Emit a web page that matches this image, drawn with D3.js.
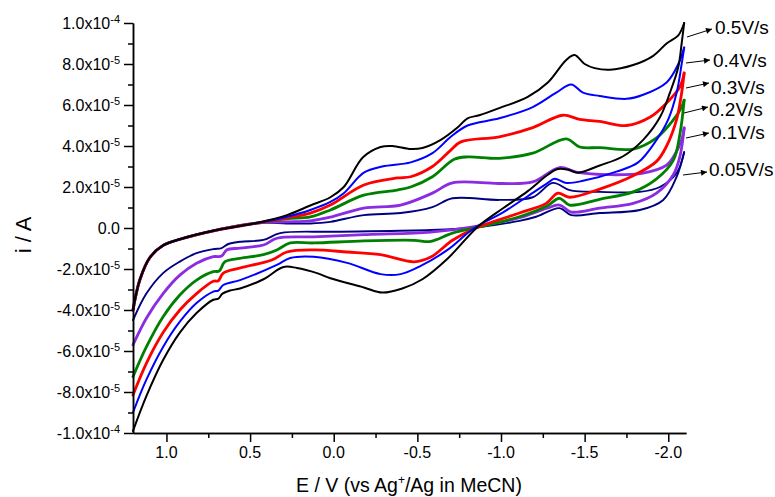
<!DOCTYPE html>
<html>
<head>
<meta charset="utf-8">
<script src="https://cdn.jsdelivr.net/npm/d3@7"></script>
<style>
  html, body { margin: 0; padding: 0; background: #fff; }
  svg { display: block; font-family: "Liberation Sans", Arial, sans-serif; }
</style>
</head>
<body>
<svg id="chart" width="775" height="497"></svg>
<script>
// Scan rates of the six voltammograms, slowest first
const scanRates = ["0.05V/s", "0.1V/s", "0.2V/s", "0.3V/s", "0.4V/s", "0.5V/s"];

// Each voltammogram has two branches of [E (V vs Ag+/Ag), i (x10^-5 A)],
// both running from +1.2 V out to the switching potential near -2.1 V.
const cv005Lower = [[1.2,-4.5],[1.12,-3.2],[1.02,-2.2],[0.92,-1.64],[0.82,-1.23],[0.72,-1.03],[0.67,-0.98],[0.63,-0.78],[0.56,-0.67],[0.42,-0.58],[0.32,-0.25],[0.0,-0.18],[-0.58,-0.1],[-0.87,0.05],[-1.11,0.35],[-1.21,0.55],[-1.35,0.97],[-1.42,0.63],[-1.59,0.73],[-1.83,0.88],[-1.97,1.37],[-2.05,2.5],[-2.095,3.7]];
const cv005Upper = [[1.2,-4.0],[1.16,-2.55],[1.10,-1.45],[1.02,-0.85],[0.92,-0.55],[0.70,-0.1],[0.45,0.25],[0.28,0.22],[0.14,0.22],[0.02,0.3],[-0.18,0.63],[-0.40,0.73],[-0.59,1.02],[-0.71,1.45],[-0.99,1.37],[-1.19,1.5],[-1.31,2.2],[-1.41,1.85],[-1.59,1.76],[-1.83,1.76],[-1.95,2.0],[-2.05,2.68],[-2.095,3.7]];

const cv01Lower = [[1.2,-5.7],[1.12,-4.4],[1.02,-3.2],[0.92,-2.3],[0.82,-1.72],[0.72,-1.4],[0.67,-1.37],[0.64,-1.07],[0.56,-0.98],[0.42,-0.83],[0.34,-0.5],[0.12,-0.43],[-0.2,-0.32],[-0.58,-0.2],[-0.87,0.1],[-1.11,0.5],[-1.27,0.95],[-1.35,1.12],[-1.42,0.78],[-1.59,0.97],[-1.79,1.2],[-1.93,1.7],[-2.03,2.6],[-2.07,3.5],[-2.095,4.88]];
const cv01Upper = [[1.2,-4.0],[1.16,-2.55],[1.10,-1.45],[1.02,-0.85],[0.92,-0.55],[0.70,-0.1],[0.45,0.25],[0.28,0.3],[0.14,0.35],[0.02,0.53],[-0.18,0.97],[-0.40,1.12],[-0.59,1.7],[-0.71,2.2],[-0.99,2.17],[-1.19,2.25],[-1.35,2.95],[-1.45,2.73],[-1.65,2.6],[-1.85,2.68],[-1.99,3.07],[-2.04,3.6],[-2.08,4.3],[-2.095,4.88]];

const cv02Lower = [[1.2,-7.25],[1.12,-5.8],[1.02,-4.33],[0.92,-3.27],[0.82,-2.54],[0.72,-2.13],[0.685,-2.1],[0.65,-1.64],[0.56,-1.48],[0.42,-1.3],[0.34,-1.07],[0.26,-0.73],[0.12,-0.73],[-0.18,-0.63],[-0.48,-0.6],[-0.58,-0.65],[-0.71,-0.25],[-0.87,0.05],[-1.11,0.55],[-1.28,1.1],[-1.35,1.45],[-1.41,1.12],[-1.59,1.4],[-1.79,1.76],[-1.93,2.4],[-2.03,3.3],[-2.07,4.6],[-2.095,6.24]];
const cv02Upper = [[1.2,-4.0],[1.16,-2.55],[1.10,-1.45],[1.02,-0.85],[0.92,-0.55],[0.70,-0.1],[0.45,0.25],[0.28,0.45],[0.14,0.54],[0.02,0.88],[-0.18,1.6],[-0.38,1.85],[-0.46,2.0],[-0.59,2.5],[-0.72,3.35],[-0.80,3.47],[-0.99,3.4],[-1.19,3.65],[-1.39,4.35],[-1.47,3.95],[-1.59,3.92],[-1.79,3.85],[-1.93,4.4],[-2.03,5.27],[-2.08,5.9],[-2.095,6.24]];

const cv03Lower = [[1.2,-8.15],[1.12,-6.6],[1.02,-5.1],[0.92,-4.0],[0.82,-3.2],[0.72,-2.6],[0.69,-2.57],[0.66,-2.2],[0.56,-1.95],[0.37,-1.56],[0.28,-1.17],[0.12,-1.07],[-0.08,-1.17],[-0.28,-1.3],[-0.48,-1.65],[-0.58,-1.42],[-0.71,-0.6],[-0.85,0],[-1.11,0.73],[-1.27,1.2],[-1.34,1.7],[-1.41,1.5],[-1.59,1.9],[-1.79,2.55],[-1.93,3.25],[-1.99,4.0],[-2.05,5.3],[-2.08,6.6],[-2.095,7.56]];
const cv03Upper = [[1.2,-4.0],[1.16,-2.55],[1.10,-1.45],[1.02,-0.85],[0.92,-0.55],[0.70,-0.1],[0.45,0.25],[0.28,0.5],[0.14,0.73],[0.02,1.12],[-0.18,2.1],[-0.38,2.44],[-0.46,2.5],[-0.59,3.0],[-0.70,3.8],[-0.76,4.2],[-0.99,4.45],[-1.19,4.9],[-1.37,5.5],[-1.47,5.3],[-1.59,5.2],[-1.75,5.0],[-1.89,5.4],[-1.99,6.1],[-2.07,6.9],[-2.095,7.56]];

const cv04Lower = [[1.2,-9.0],[1.12,-7.4],[1.02,-5.8],[0.92,-4.57],[0.82,-3.66],[0.72,-3.1],[0.69,-3.05],[0.66,-2.78],[0.56,-2.54],[0.34,-1.8],[0.26,-1.46],[0.12,-1.4],[-0.08,-1.7],[-0.28,-2.25],[-0.40,-2.25],[-0.52,-1.85],[-0.68,-1.07],[-0.84,0],[-1.01,0.75],[-1.16,1.55],[-1.28,2.2],[-1.32,2.4],[-1.39,2.2],[-1.49,2.3],[-1.69,2.75],[-1.82,3.2],[-1.93,4.3],[-2.0,5.3],[-2.05,6.6],[-2.08,8.0],[-2.095,8.8]];
const cv04Upper = [[1.2,-4.0],[1.16,-2.55],[1.10,-1.45],[1.02,-0.85],[0.92,-0.55],[0.70,-0.1],[0.45,0.25],[0.28,0.55],[0.14,0.88],[0.02,1.27],[-0.06,1.7],[-0.18,2.7],[-0.29,3.0],[-0.46,3.2],[-0.59,3.65],[-0.70,4.45],[-0.80,5.0],[-0.99,5.35],[-1.19,5.9],[-1.33,6.6],[-1.42,7.0],[-1.49,6.6],[-1.59,6.44],[-1.75,6.3],[-1.85,6.5],[-1.99,7.1],[-2.06,8.0],[-2.095,8.8]];

const cv05Lower = [[1.2,-9.9],[1.12,-8.2],[1.02,-6.44],[0.92,-5.1],[0.82,-4.15],[0.72,-3.5],[0.69,-3.45],[0.665,-3.2],[0.62,-3.05],[0.56,-2.95],[0.42,-2.5],[0.30,-1.9],[0.22,-1.95],[0.10,-2.2],[0.02,-2.45],[-0.18,-2.9],[-0.29,-3.15],[-0.41,-2.95],[-0.53,-2.5],[-0.68,-1.5],[-0.86,0.05],[-1.01,0.95],[-1.16,1.8],[-1.28,2.6],[-1.34,2.88],[-1.40,2.85],[-1.46,2.7],[-1.59,3.05],[-1.73,3.5],[-1.85,4.3],[-1.95,5.4],[-2.01,6.6],[-2.06,7.85],[-2.08,9.0],[-2.095,10]];
const cv05Upper = [[1.2,-4.0],[1.16,-2.55],[1.10,-1.45],[1.02,-0.85],[0.92,-0.55],[0.70,-0.1],[0.45,0.27],[0.28,0.63],[0.14,1.1],[0.02,1.5],[-0.06,2.0],[-0.175,3.45],[-0.28,3.95],[-0.35,4.0],[-0.46,3.85],[-0.53,3.9],[-0.64,4.3],[-0.74,4.9],[-0.80,5.35],[-0.87,5.5],[-0.99,5.85],[-1.16,6.4],[-1.28,7.1],[-1.39,8.2],[-1.44,8.44],[-1.50,8.0],[-1.56,7.8],[-1.65,7.72],[-1.79,7.95],[-1.91,8.4],[-1.99,9.0],[-2.06,9.4],[-2.095,10.0]];

// Axis ticks: potential in V, current in units of 10^-5 A
const xMajorTicks = [1.0, 0.5, 0.0, -0.5, -1.0, -1.5, -2.0];
const xMinorTicks = [0.75, 0.25, -0.25, -0.75, -1.25, -1.75];
const yMajorTicks = [-10, -8, -6, -4, -2, 0, 2, 4, 6, 8, 10];
const yMinorTicks = [-9, -7, -5, -3, -1, 1, 3, 5, 7, 9];

// ---- appearance ----
const curves = [
  { rate: scanRates[0], lower: cv005Lower, upper: cv005Upper },
  { rate: scanRates[1], lower: cv01Lower,  upper: cv01Upper  },
  { rate: scanRates[2], lower: cv02Lower,  upper: cv02Upper  },
  { rate: scanRates[3], lower: cv03Lower,  upper: cv03Upper  },
  { rate: scanRates[4], lower: cv04Lower,  upper: cv04Upper  },
  { rate: scanRates[5], lower: cv05Lower,  upper: cv05Upper  }
];
const curveStyle = [
  { color: "#000080", width: 1.9 },
  { color: "#8B2BE2", width: 2.8 },
  { color: "#008000", width: 2.8 },
  { color: "#FF0000", width: 2.8 },
  { color: "#0000FF", width: 2.0 },
  { color: "#000000", width: 2.0 }
];
// label placement for each scan rate: arrow start, arrow end, text start, text baseline
const labelLayout = [
  { x1: 683, y1: 175, x2: 707, y2: 172, tx: 709, ty: 176 },
  { x1: 686, y1: 138, x2: 709, y2: 133, tx: 711, ty: 139 },
  { x1: 684, y1: 113, x2: 708, y2: 107, tx: 709, ty: 116 },
  { x1: 686, y1: 88,  x2: 709, y2: 83,  tx: 711, ty: 94  },
  { x1: 686, y1: 63,  x2: 710, y2: 60,  tx: 713, ty: 67  },
  { x1: 687, y1: 37,  x2: 712, y2: 29,  tx: 715, ty: 34  }
];

const svg = d3.select("#chart");

const x = d3.scaleLinear().domain([1.2, -2.106]).range([133, 686]);
const y = d3.scaleLinear().domain([-10, 10]).range([433, 23]);

const line = d3.line()
  .x(d => x(d[0]))
  .y(d => y(d[1]))
  .curve(d3.curveCatmullRom.alpha(0.5));

// voltammograms
const gCurves = svg.append("g").attr("fill", "none")
  .attr("stroke-linejoin", "round").attr("stroke-linecap", "round");
curves.forEach((c, k) => {
  [c.lower, c.upper].forEach(branch => {
    gCurves.append("path")
      .attr("d", line(branch))
      .attr("stroke", curveStyle[k].color)
      .attr("stroke-width", curveStyle[k].width);
  });
});

// axes
function styleAxis(g) {
  g.selectAll("path, line").attr("stroke", "#000").attr("stroke-width", 1.5);
  g.selectAll("text").remove();
}
svg.append("g").attr("transform", "translate(0,433)")
  .call(d3.axisBottom(x).tickValues(xMinorTicks).tickSize(5).tickSizeOuter(0).tickFormat(""))
  .call(styleAxis);
svg.append("g").attr("transform", "translate(0,433)")
  .call(d3.axisBottom(x).tickValues(xMajorTicks).tickSize(9).tickSizeOuter(0).tickFormat(""))
  .call(styleAxis);
svg.append("g").attr("transform", "translate(133,0)")
  .call(d3.axisLeft(y).tickValues(yMinorTicks).tickSize(5).tickSizeOuter(0).tickFormat(""))
  .call(styleAxis);
svg.append("g").attr("transform", "translate(133,0)")
  .call(d3.axisLeft(y).tickValues(yMajorTicks).tickSize(9).tickSizeOuter(0).tickFormat(""))
  .call(styleAxis);

// x tick labels
svg.append("g").selectAll("text").data(xMajorTicks).join("text")
  .attr("x", d => x(d)).attr("y", 458)
  .attr("text-anchor", "middle").attr("font-size", 16).attr("fill", "#000")
  .text(d => (d === 0 ? 0 : d).toFixed(1));

// y tick labels in scientific notation
const yLab = svg.append("g").selectAll("text").data(yMajorTicks).join("text")
  .attr("x", 120).attr("y", d => y(d) + 6)
  .attr("text-anchor", "end").attr("font-size", 16).attr("fill", "#000");
yLab.each(function (v) {
  const t = d3.select(this);
  if (v === 0) { t.text("0.0"); return; }
  const big = Math.abs(v) >= 10;
  const mant = (big ? v / 10 : v).toFixed(1);
  t.append("tspan").text(mant + "x10");
  t.append("tspan").attr("font-size", 11).attr("dy", -6).text(big ? "-4" : "-5");
});

// axis titles
const xt = svg.append("text").attr("x", 409).attr("y", 492)
  .attr("text-anchor", "middle").attr("font-size", 19.5).attr("fill", "#000");
xt.append("tspan").text("E / V (vs Ag");
xt.append("tspan").attr("font-size", 12).attr("dy", -8).text("+");
xt.append("tspan").attr("dy", 8).text("/Ag in MeCN)");

svg.append("text")
  .attr("transform", "translate(31,235) rotate(-90)")
  .attr("text-anchor", "middle").attr("font-size", 22).attr("fill", "#000")
  .text("i / A");

// scan-rate labels with arrows
svg.append("defs").append("marker")
  .attr("id", "arrowHead").attr("viewBox", "0 0 10 10")
  .attr("refX", 10).attr("refY", 5)
  .attr("markerWidth", 9).attr("markerHeight", 6)
  .attr("markerUnits", "userSpaceOnUse").attr("orient", "auto")
  .append("path").attr("d", "M0,0 L10,5 L0,10 Z").attr("fill", "#000");

const gLab = svg.append("g");
scanRates.forEach((r, k) => {
  const L = labelLayout[k];
  gLab.append("line")
    .attr("x1", L.x1).attr("y1", L.y1).attr("x2", L.x2).attr("y2", L.y2)
    .attr("stroke", "#000").attr("stroke-width", 1)
    .attr("marker-end", "url(#arrowHead)");
  gLab.append("text")
    .attr("x", L.tx).attr("y", L.ty)
    .attr("font-size", 19).attr("fill", "#000")
    .text(r);
});
</script>
</body>
</html>
